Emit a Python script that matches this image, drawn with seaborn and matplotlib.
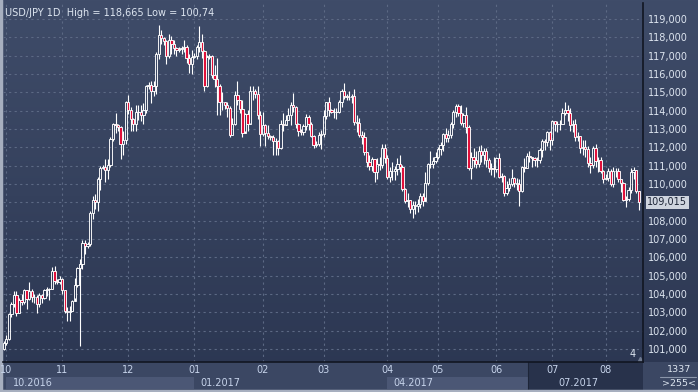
import matplotlib
matplotlib.use("Agg")
import matplotlib.pyplot as plt
import numpy as np
import seaborn as sns

# ── Daily USD/JPY candles ────────────────────────────────────────────
# close / high / low per candle; open = previous close.
# Winter months carry the short Sunday bars of the broker feed.
FIRST_OPEN = 101.00

sep_close = [101.35]
sep_high = [101.45]
sep_low = [100.95]

oct_close = [101.55, 102.90, 103.45, 103.95, 102.95, 103.65, 103.55, 104.20, 103.75, 104.15, 103.85,
             103.85, 103.45, 103.95, 103.80, 104.20, 104.25, 104.25, 105.25, 104.70, 104.65, 104.80]
oct_high = [101.75, 102.95, 103.55, 104.15, 104.15, 103.80, 104.00, 104.30, 104.20, 104.65, 104.30,
            104.00, 103.95, 104.05, 104.00, 104.25, 104.40, 104.35, 105.45, 105.55, 104.80, 105.00]
oct_low = [101.20, 101.50, 102.75, 103.30, 102.80, 102.95, 103.40, 103.45, 103.20, 103.65, 103.55,
           103.50, 102.95, 103.30, 103.50, 103.75, 103.90, 103.65, 104.25, 104.55, 104.55, 104.55]

nov_close = [104.20, 103.05, 103.00, 103.10, 103.60, 104.50, 105.40, 105.65, 106.80, 106.60, 106.75, 108.40, 109.15,
             109.00, 110.25, 110.90, 110.95, 110.75, 111.05, 112.45, 113.30, 113.20, 113.10, 112.20, 112.40, 114.45]
nov_high = [104.85, 104.20, 103.30, 103.35, 103.70, 104.85, 105.50, 105.90, 106.95, 106.95, 106.85, 108.55, 109.35,
            109.45, 110.40, 111.00, 111.05, 111.35, 111.35, 112.55, 113.35, 113.90, 113.30, 113.15, 112.90, 114.55]
nov_low = [104.00, 102.95, 102.55, 102.55, 103.10, 103.80, 104.40, 101.15, 105.35, 106.20, 106.50, 106.60, 108.10,
           108.65, 108.55, 109.65, 110.80, 110.10, 110.25, 110.95, 112.35, 112.80, 112.90, 111.35, 111.60, 112.20]

dec_close = [114.05, 113.55, 113.30, 113.95, 113.95, 113.75, 114.05, 115.35, 115.40, 115.05, 115.35, 117.10, 118.15,
             117.95, 117.80, 117.00, 117.85, 117.65, 117.40, 117.30, 117.35, 117.40, 117.45, 116.85, 116.55, 116.95]
dec_high = [114.85, 114.20, 113.60, 114.30, 114.30, 114.30, 114.40, 115.40, 115.55, 115.60, 115.60, 117.20, 118.665,
            118.40, 118.00, 117.85, 118.20, 118.05, 117.85, 117.50, 117.45, 117.55, 117.85, 117.60, 117.10, 117.30]
dec_low = [113.80, 112.90, 112.90, 112.90, 113.50, 113.45, 113.30, 113.90, 115.20, 114.40, 114.80, 114.90, 116.80,
           117.65, 117.60, 116.55, 116.85, 117.10, 117.10, 117.00, 117.20, 117.10, 117.20, 116.60, 116.05, 116.00]

jan_close = [117.00, 117.50, 117.75, 117.25, 115.35, 116.95, 117.00, 115.95, 115.75, 115.35, 114.45, 114.50, 114.30, 114.15,
             112.70, 113.30, 114.85, 114.60, 114.10, 112.80, 113.80, 113.30, 115.05, 115.10, 114.90, 113.75, 112.75]
jan_high = [117.15, 117.60, 118.60, 118.20, 117.30, 117.05, 117.10, 117.05, 116.50, 116.90, 115.45, 115.00, 114.50, 114.45,
            114.25, 113.60, 115.05, 115.60, 114.35, 114.60, 113.90, 114.05, 115.35, 115.35, 115.20, 115.35, 114.00]
jan_low = [116.85, 116.80, 117.20, 116.90, 115.10, 115.30, 116.80, 115.80, 115.30, 113.75, 113.75, 114.05, 114.10, 113.65,
           112.55, 112.70, 113.20, 114.30, 113.90, 112.55, 112.90, 112.90, 113.35, 114.60, 114.70, 113.55, 112.05]

feb_close = [113.20, 112.80, 112.60, 112.55, 112.35, 112.35, 111.95, 113.25, 113.20, 113.50, 113.75, 114.30,
             114.20, 113.25, 112.90, 112.85, 113.15, 113.65, 113.30, 112.60, 112.15, 112.20, 112.65, 112.75]
feb_high = [113.95, 113.25, 113.20, 112.70, 112.70, 112.50, 112.40, 113.50, 113.85, 113.75, 114.15, 114.50,
            114.95, 114.25, 113.35, 113.00, 113.25, 113.80, 113.75, 113.40, 112.65, 112.35, 112.85, 112.95]
feb_low = [112.60, 112.10, 112.45, 112.40, 111.60, 111.60, 111.60, 111.90, 112.90, 113.30, 113.50, 113.20,
           113.95, 113.05, 112.60, 112.70, 112.65, 112.95, 112.95, 112.55, 111.95, 112.00, 112.05, 111.90]

mar_close = [113.70, 114.45, 114.05, 113.95, 113.95, 113.95, 114.45, 115.05, 114.80, 114.75, 114.75, 114.80, 113.40,
             113.35, 112.70, 112.55, 111.75, 111.20, 111.00, 111.35, 110.65, 111.10, 111.05, 111.95, 111.40]
mar_high = [114.05, 114.50, 114.75, 114.10, 114.15, 114.15, 114.60, 115.20, 115.50, 114.90, 115.05, 114.90, 115.20,
            113.75, 113.60, 112.90, 112.85, 111.75, 111.60, 111.45, 110.75, 111.40, 111.50, 112.20, 112.20]
mar_low = [112.55, 113.55, 113.70, 113.85, 113.60, 113.55, 113.85, 114.20, 114.65, 114.60, 114.60, 114.40, 113.20,
           112.85, 112.55, 112.20, 111.60, 110.95, 110.75, 110.70, 110.10, 110.30, 110.75, 110.85, 111.15]

apr_close = [110.40, 110.70, 110.70, 110.80, 111.10, 110.95, 109.75, 109.10, 109.15, 108.65,
             108.85, 108.80, 108.90, 109.35, 109.05, 110.05, 111.10, 111.10, 111.25, 111.50]
apr_high = [111.60, 110.95, 111.20, 111.00, 111.40, 111.60, 111.05, 109.80, 109.50, 109.05,
            109.10, 109.05, 109.20, 109.50, 109.50, 110.65, 111.15, 111.80, 111.45, 111.75]
apr_low = [110.25, 110.10, 110.20, 110.20, 110.50, 110.65, 109.60, 108.95, 108.75, 108.40,
           108.15, 108.35, 108.45, 108.70, 108.80, 109.30, 109.95, 110.90, 110.85, 111.15]

may_close = [111.90, 112.15, 112.75, 112.50, 112.70, 113.25, 113.95, 114.25, 113.85, 113.35, 113.75, 113.10,
             110.85, 111.50, 111.30, 111.10, 111.80, 111.60, 111.80, 111.30, 110.85, 110.80, 110.80]
may_high = [112.00, 112.30, 112.80, 113.05, 112.95, 113.40, 114.05, 114.35, 114.35, 114.30, 113.85, 114.20,
            113.20, 111.75, 111.95, 111.80, 112.10, 112.15, 111.95, 111.95, 111.40, 111.15, 111.45]
may_low = [111.35, 111.60, 111.80, 112.30, 112.30, 112.50, 113.05, 113.65, 113.70, 113.20, 113.10, 112.80,
           110.75, 110.25, 110.95, 110.85, 110.95, 111.20, 111.10, 110.95, 110.65, 110.50, 110.40]

jun_close = [111.40, 110.40, 110.45, 109.50, 109.80, 110.00, 110.35, 110.05, 110.00, 109.60, 110.95,
             110.90, 111.55, 111.45, 111.40, 111.30, 111.30, 111.85, 112.35, 112.30, 112.85, 112.40]
jun_high = [111.45, 111.70, 110.60, 110.50, 110.15, 110.35, 110.80, 110.40, 110.35, 110.25, 111.00,
            111.40, 111.70, 111.80, 111.50, 111.45, 111.45, 111.95, 112.45, 112.45, 112.90, 112.90]
jun_low = [110.65, 110.35, 110.10, 109.35, 109.40, 109.60, 109.90, 109.85, 109.70, 108.80, 109.55,
           110.65, 110.85, 111.20, 110.95, 111.00, 110.95, 111.15, 111.50, 111.85, 112.10, 111.85]

jul_close = [113.45, 113.30, 113.25, 113.25, 113.90, 114.05, 113.90, 113.20, 113.30, 112.55, 112.60,
             111.95, 112.00, 111.90, 111.15, 111.05, 111.95, 111.25, 111.30, 110.70, 110.25]
jul_high = [113.50, 113.45, 113.45, 113.50, 114.15, 114.50, 114.30, 114.15, 113.50, 113.55, 112.85,
            112.55, 112.40, 112.40, 112.05, 111.45, 112.05, 112.20, 111.45, 111.45, 110.75]
jul_low = [112.15, 112.90, 112.85, 112.95, 113.25, 113.75, 113.45, 112.90, 112.85, 112.35, 112.35,
           111.70, 111.60, 111.50, 110.95, 110.60, 110.85, 110.95, 110.65, 110.60, 110.05]

aug_close = [110.35, 110.70, 110.00, 110.70, 110.70, 110.30, 110.05, 109.15, 109.20, 109.65, 110.65, 110.75, 109.60, 109.015]
aug_high = [110.55, 110.85, 110.80, 110.95, 110.85, 110.85, 110.30, 110.10, 109.35, 109.85, 110.85, 110.95, 110.75, 109.60]
aug_low = [110.20, 110.15, 109.90, 109.85, 110.40, 110.10, 109.55, 109.10, 108.75, 109.10, 109.50, 110.30, 109.50, 108.60]

MONTH_LABELS = ["10", "11", "12", "01", "02", "03", "04", "05", "06", "07", "08"]
QUARTER_LABELS = ["10.2016", "01.2017", "04.2017", "07.2017"]
PRICE_TICKS = list(range(101, 120))
TITLE = "USD/JPY 1D  High = 118,665 Low = 100,74"
LAST_PRICE = 109.015

# ── Assemble ─────────────────────────────────────────────────────────
months_close = [oct_close, nov_close, dec_close, jan_close, feb_close, mar_close,
                apr_close, may_close, jun_close, jul_close, aug_close]
close = np.array(sep_close + sum(months_close, []))
high = np.array(sep_high + sum([oct_high, nov_high, dec_high, jan_high, feb_high, mar_high,
                                apr_high, may_high, jun_high, jul_high, aug_high], []))
low = np.array(sep_low + sum([oct_low, nov_low, dec_low, jan_low, feb_low, mar_low,
                              apr_low, may_low, jun_low, jul_low, aug_low], []))
opn = np.concatenate([[FIRST_OPEN], close[:-1]])
idx = np.arange(len(close))

month_start = np.cumsum([len(sep_close)] + [len(m) for m in months_close[:-1]])
quarter_start = month_start[::3]

# ── Style ────────────────────────────────────────────────────────────
sns.set_theme(style="dark")
plt.rcParams["font.family"] = ["DejaVu Sans"]

W, H = 698, 392
BG_TOP, BG_BOT = "#3f4c69", "#2b3651"
GRID = "#5c6984"
TXT = "#dde5f0"
RED = "#e0103a"
STEP = 2.54  # pixels per candle


def px(x):
    return x / W


fig = plt.figure(figsize=(W / 100, H / 100), dpi=100)

# background gradient over the whole window
bg = fig.add_axes([0, 0, 1, 1])
grad = np.linspace(0, 1, 256)[:, None]
cmap = matplotlib.colors.LinearSegmentedColormap.from_list("bg", [BG_TOP, BG_BOT])
bg.imshow(grad, aspect="auto", cmap=cmap, extent=[0, 1, 0, 1], origin="upper")
bg.set_xlim(0, 1)
bg.set_ylim(0, 1)
bg.axis("off")

# time axis strip: base fill, quarter bands, shaded tail
bg.add_patch(plt.Rectangle((px(3), 2 / H), px(695), 28 / H, color="#3b4763", lw=0))
for i, q in enumerate(quarter_start):
    if i % 2:
        continue
    x0 = 3 + q * STEP
    x1 = 3 + quarter_start[i + 1] * STEP if i + 1 < len(quarter_start) else 643
    bg.add_patch(plt.Rectangle((px(x0), 3 / H), px(x1 - x0), 12 / H, color="#4b5775", lw=0))
bg.add_patch(plt.Rectangle((px(528), 2 / H), px(115), 28 / H, color="#28324b", lw=0))
bg.plot([px(528), px(528)], [2 / H, 30 / H], color="#1d2538", lw=0.8)
# right-bottom corner box
bg.plot([px(660), px(696)], [15 / H, 15 / H], color="#8a95aa", lw=0.8)
bg.text(px(679), 22 / H, "1337", color=TXT, fontsize=6.8, ha="center", va="center")
bg.text(px(679), 9 / H, ">255<", color=TXT, fontsize=6.8, ha="center", va="center")
# window frame
bg.plot([px(0.5), px(0.5)], [0, 1], color="#a7afbf", lw=2.5)
bg.plot([0, 1], [1 / H, 1 / H], color="#a7afbf", lw=2.5)

# ── Price panel ──────────────────────────────────────────────────────
ax = fig.add_axes([px(3), 30 / H, px(640), 359 / H])
ax.set_facecolor("none")
ax.set_xlim(-0.3, 251.7)
ax.set_ylim(100.291, 119.873)

ax.set_yticks(PRICE_TICKS)
ax.set_yticklabels([f"{p:.3f}".replace(".", ",") for p in PRICE_TICKS])
ax.yaxis.tick_right()
ax.set_xticks(month_start)
ax.set_xticklabels(MONTH_LABELS)
ax.tick_params(axis="y", length=0, pad=3.5, labelsize=7, labelcolor=TXT)
ax.tick_params(axis="x", length=0, pad=2.5, labelsize=7, labelcolor="#c6d3ea")
ax.grid(True, color=GRID, linestyle=(0, (2, 3)), linewidth=0.8)
for side in ("left", "top"):
    ax.spines[side].set_visible(False)
for side in ("right", "bottom"):
    ax.spines[side].set_color("#111622")
    ax.spines[side].set_linewidth(1.2)

up = close >= opn
body_top = np.maximum(opn, close)
body_bot = np.minimum(opn, close)
ax.vlines(idx, body_top, high, color="white", lw=0.8, zorder=3)
ax.vlines(idx, low, body_bot, color="white", lw=0.8, zorder=3)
ax.bar(idx[up], (body_top - body_bot)[up], bottom=body_bot[up], width=0.9,
       facecolor="none", edgecolor="white", linewidth=0.65, zorder=4)
ax.bar(idx[~up], (body_top - body_bot)[~up], bottom=body_bot[~up], width=0.9,
       facecolor=RED, edgecolor="white", linewidth=0.65, zorder=4)

ax.text(2 / 640, 1 - 5 / 359, TITLE, transform=ax.transAxes, color=TXT,
        fontsize=7, ha="left", va="top")

# last price tag on the scale
ax.annotate(f"{LAST_PRICE:.3f}".replace(".", ","), xy=(1, LAST_PRICE),
            xycoords=("axes fraction", "data"), xytext=(3, 0), textcoords="offset points",
            fontsize=7, color="#1c2436", ha="left", va="center", annotation_clip=False,
            bbox=dict(boxstyle="square,pad=0.15", fc="#cfd5df", ec="none"))

ax.text(1 - 10 / 640, 3 / 359, "4", transform=ax.transAxes, color=TXT, fontsize=7,
        ha="center", va="bottom")
ax.plot([1 - 3 / 640], [3 / 359], marker="^", ms=3, color="#6f7a90",
        transform=ax.transAxes, clip_on=False)

# second row of the time axis
for q, lab in zip(quarter_start, QUARTER_LABELS):
    ax.text(q + 2.5, -21 / 359, lab, color="#c6d3ea", fontsize=7, ha="left", va="center",
            transform=ax.get_xaxis_transform(), clip_on=False)

fig.savefig("out.png", dpi=100)
